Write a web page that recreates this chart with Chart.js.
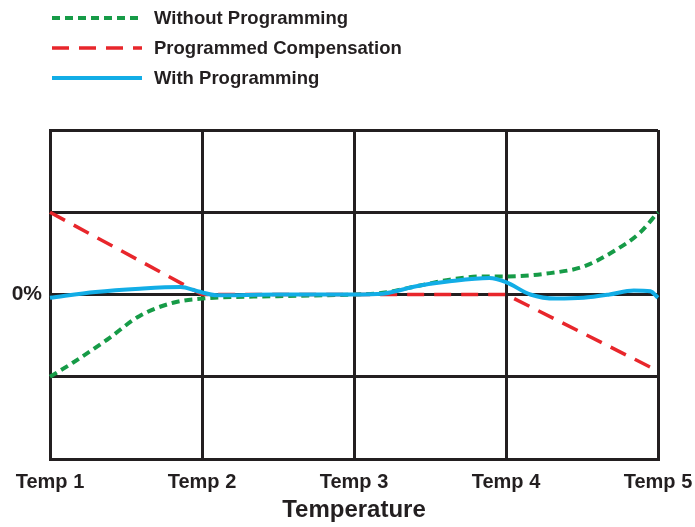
<!DOCTYPE html>
<html>
<head>
<meta charset="utf-8">
<script src="https://cdn.jsdelivr.net/npm/chart.js@4/dist/chart.umd.min.js"></script>
<style>
  html, body { margin: 0; padding: 0; background: #fff; }
  #wrap { position: relative; width: 695px; height: 527px; }
  #legend { position: absolute; left: 50px; top: 3px; font: bold 18.5px "Liberation Sans", Arial, sans-serif; color: #231f20; }
  .item { display: flex; align-items: center; height: 30px; }
  .item svg { margin-right: 12px; }
</style>
</head>
<body>
<div id="wrap">
  <canvas id="chart" width="695" height="527"></canvas>
  <div id="legend"></div>
</div>
<script>
// temperature positions: 1 = Temp 1 ... 5 = Temp 5
const tickLabels = ['Temp 1', 'Temp 2', 'Temp 3', 'Temp 4', 'Temp 5'];

const withoutX = [1.0, 1.15, 1.375, 1.59, 1.81, 2.0, 2.5, 3.0, 3.19, 3.41, 3.63, 3.85, 4.0, 4.29, 4.51, 4.73, 4.88, 5.0];
const withoutY = [-1, -0.83, -0.55, -0.26, -0.1, -0.05, -0.02, 0, 0.02, 0.1, 0.18, 0.22, 0.22, 0.26, 0.34, 0.55, 0.75, 1.0];

const compX = [1, 2, 3, 4, 5];
const compY = [1, 0, 0, 0, -0.93];

const withX = [1.0, 1.3, 1.59, 1.86, 1.97, 2.1, 2.5, 3.0, 3.19, 3.41, 3.63, 3.89, 4.0, 4.16, 4.33, 4.51, 4.68, 4.84, 4.95, 5.0];
const withY = [-0.04, 0.03, 0.07, 0.09, 0.04, -0.01, 0, 0, 0.01, 0.1, 0.16, 0.2, 0.15, 0, -0.05, -0.04, 0, 0.05, 0.04, -0.04];

const ink = '#231f20';
const font = '"Liberation Sans", Arial, sans-serif';

const toPoints = (xs, ys) => xs.map((x, i) => ({ x: x, y: ys[i] }));

const series = [
    { label: 'Without Programming', color: '#169b47', dash: [8, 5], width: 4, pts: toPoints(withoutX, withoutY), curve: true, order: 2 },
    { label: 'Programmed Compensation', color: '#e8262b', dash: [17, 10], width: 3.5, pts: toPoints(compX, compY), curve: false, order: 1 },
    { label: 'With Programming', color: '#12ade6', dash: [], width: 4, pts: toPoints(withX, withY), curve: true, order: 0 }
];

// legend
const legend = document.getElementById('legend');
series.forEach(s => {
    const div = document.createElement('div');
    div.className = 'item';
    div.innerHTML = '<svg width="92" height="8"><line x1="2" y1="4" x2="92" y2="4" stroke="' + s.color +
        '" stroke-width="' + s.width + '" stroke-dasharray="' + (s.dash.length ? s.dash.join(',') : 'none') + '"/></svg>' +
        '<span>' + s.label + '</span>';
    legend.appendChild(div);
});

new Chart(document.getElementById('chart'), {
    type: 'line',
    data: {
        datasets: series.map(s => ({
            label: s.label,
            data: s.pts,
            borderColor: s.color,
            borderDash: s.dash,
            borderWidth: s.width,
            pointRadius: 0,
            fill: false,
            clip: false,
            order: s.order,
            cubicInterpolationMode: s.curve ? 'monotone' : 'default',
            tension: 0
        }))
    },
    options: {
        responsive: false,
        animation: false,
        layout: { padding: { top: 130, right: 0, bottom: 0, left: 0 } },
        plugins: { legend: { display: false }, tooltip: { enabled: false } },
        scales: {
            x: {
                type: 'linear',
                min: 1,
                max: 5,
                afterFit: scale => { scale.height = 68; scale.paddingRight = 37; scale.paddingLeft = 0; },
                grid: { color: ink, lineWidth: 3, drawTicks: false },
                border: { color: ink, width: 3 },
                ticks: {
                    stepSize: 1,
                    padding: 11,
                    color: ink,
                    font: { family: font, size: 20, weight: 'bold' },
                    callback: v => tickLabels[v - 1] || ''
                },
                title: {
                    display: true,
                    text: 'Temperature',
                    color: ink,
                    font: { family: font, size: 24, weight: 'bold' },
                    padding: { top: 0, bottom: 2 }
                }
            },
            y: {
                min: -2,
                max: 2,
                afterFit: scale => { scale.width = 50; },
                grid: { color: ink, lineWidth: 3, drawTicks: false },
                border: { color: ink, width: 3 },
                ticks: {
                    stepSize: 1,
                    padding: 8,
                    color: ink,
                    font: { family: font, size: 21, weight: 'bold' },
                    callback: v => v === 0 ? '0%' : ''
                }
            }
        }
    }
});
</script>
</body>
</html>
